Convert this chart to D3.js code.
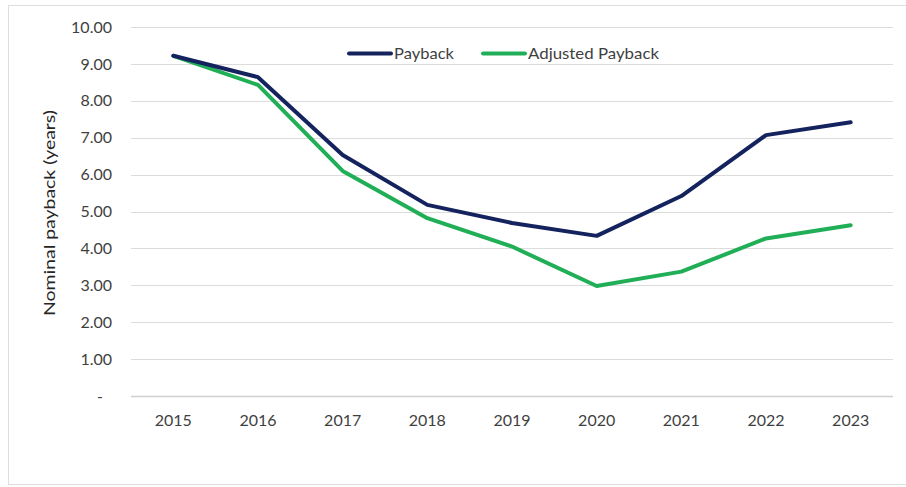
<!DOCTYPE html>
<html>
<head>
<meta charset="utf-8">
<script src="https://cdn.jsdelivr.net/npm/d3@7/dist/d3.min.js"></script>
<style>
  html, body { margin: 0; padding: 0; background: #fff; }
  svg { display: block; font-family: Lato, "Open Sans", sans-serif; }
</style>
</head>
<body>
<svg id="chart" width="906" height="487"></svg>
<script>
// Nominal payback by year
const years = ["2015", "2016", "2017", "2018", "2019", "2020", "2021", "2022", "2023"];
const payback = [9.22, 8.64, 6.53, 5.18, 4.69, 4.34, 5.42, 7.07, 7.42];
const adjustedPayback = [9.22, 8.43, 6.10, 4.82, 4.05, 2.98, 3.37, 4.27, 4.63];
const yTicks = [0, 1, 2, 3, 4, 5, 6, 7, 8, 9, 10];
const seriesNames = ["Payback", "Adjusted Payback"];
const seriesColors = ["#14235e", "#20ae57"];

const svg = d3.select("#chart");
const W = 906, H = 487;
const margin = { left: 131, right: 13, top: 27, bottom: 91 };
const textColor = "#3f3f3f";

// outer frame
svg.append("rect")
  .attr("x", 8.5).attr("y", 5.5)
  .attr("width", W - 8).attr("height", 479)
  .attr("fill", "none").attr("stroke", "#dedede").attr("stroke-width", 1);

const x = d3.scaleBand().domain(years).range([margin.left, W - margin.right]);
const y = d3.scaleLinear().domain([0, 10]).range([H - margin.bottom, margin.top]);

// gridlines
svg.append("g")
  .selectAll("line")
  .data(yTicks)
  .join("line")
  .attr("x1", margin.left).attr("x2", W - margin.right)
  .attr("y1", d => Math.round(y(d)) + 0.5).attr("y2", d => Math.round(y(d)) + 0.5)
  .attr("stroke", d => d === 0 ? "#d0d0d0" : "#dcdcdc")
  .attr("stroke-width", d => d === 0 ? 1.5 : 1);

// y axis labels
const yAxis = d3.axisLeft(y)
  .tickValues(yTicks)
  .tickSize(0)
  .tickPadding(0)
  .tickFormat(d => d === 0 ? "-" : d3.format(".2f")(d));
const yG = svg.append("g")
  .attr("transform", `translate(112,0)`)
  .call(yAxis);
yG.select(".domain").remove();
yG.selectAll("text")
  .attr("font-size", 16)
  .attr("fill", textColor)
  .attr("font-family", "Lato, 'Open Sans', sans-serif")
  .attr("dx", d => d === 0 ? -9 : 0);

// x axis labels
const xAxis = d3.axisBottom(x).tickSize(0).tickPadding(0);
const xG = svg.append("g")
  .attr("transform", `translate(0,${y(0) + 18.5})`)
  .call(xAxis);
xG.select(".domain").remove();
xG.selectAll("text")
  .attr("font-size", 16)
  .attr("fill", textColor)
  .attr("font-family", "Lato, 'Open Sans', sans-serif");

// y axis title
svg.append("text")
  .attr("transform", `translate(55,213) rotate(-90)`)
  .attr("text-anchor", "middle")
  .attr("font-size", 16)
  .attr("textLength", 206)
  .attr("lengthAdjust", "spacingAndGlyphs")
  .attr("fill", "#262626")
  .text("Nominal payback (years)");

// lines
const line = d3.line()
  .x((d, i) => x(years[i]) + x.bandwidth() / 2)
  .y(d => y(d));

[adjustedPayback, payback].forEach((vals, k) => {
  const idx = k === 0 ? 1 : 0;
  svg.append("path")
    .datum(vals)
    .attr("d", line)
    .attr("fill", "none")
    .attr("stroke", seriesColors[idx])
    .attr("stroke-width", 4)
    .attr("stroke-linejoin", "round")
    .attr("stroke-linecap", "round");
});

// legend
const legendX = [349, 483];
const legendTextLen = [60, 131];
seriesNames.forEach((name, i) => {
  const g = svg.append("g").attr("transform", `translate(${legendX[i]},53.5)`);
  g.append("line")
    .attr("x1", 0).attr("x2", 42)
    .attr("stroke", seriesColors[i]).attr("stroke-width", 4)
    .attr("stroke-linecap", "round");
  g.append("text")
    .attr("x", 45).attr("y", 5.5)
    .attr("font-size", 16)
    .attr("textLength", legendTextLen[i])
    .attr("lengthAdjust", "spacingAndGlyphs")
    .attr("fill", textColor)
    .text(name);
});
</script>
</body>
</html>
